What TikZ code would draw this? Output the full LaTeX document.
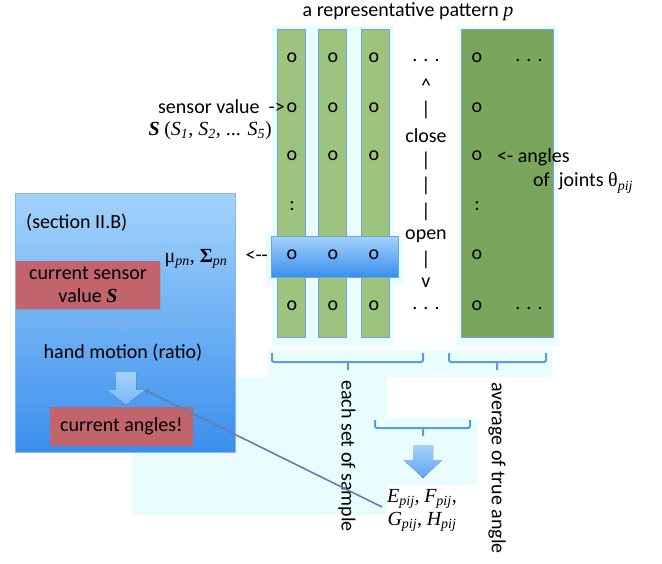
\documentclass[tikz,border=0pt]{standalone}
\usepackage{fontspec}
\setmainfont{Carlito}
\newfontfamily\tms{Liberation Serif}
\usepackage{tikz}
\usetikzlibrary{positioning,calc,arrows,shadows}

\definecolor{bgcyan}{HTML}{E9FDFE}
\definecolor{colgreen}{HTML}{9CC47E}
\definecolor{darkgreen}{HTML}{7AA55C}
\definecolor{colline}{HTML}{6FA6D9}
\definecolor{boxtop}{HTML}{A3D3FB}
\definecolor{boxbot}{HTML}{3A8EEE}
\definecolor{rosebox}{HTML}{C2646C}
\definecolor{bracecol}{HTML}{5B9BE2}
\definecolor{linkcol}{HTML}{5B83AE}

\newcommand{\isub}[2]{{\tms\itshape #1\textsubscript{#2}}}

\begin{document}
\begin{tikzpicture}[x=1pt,y=-1pt,>=to,
    every node/.style={font=\fontsize{20}{23}\selectfont, inner sep=1pt},
    column/.style={draw=colline, fill=colgreen, line width=0.7pt},
    mark o/.style={anchor=center},
    sidetext/.style={anchor=west},
    redbox/.style={fill=rosebox, draw=none, align=center, drop shadow={opacity=0.25, shadow xshift=1pt, shadow yshift=-1.5pt}},
    bracket/.style={draw=bracecol, line width=2pt, rounded corners=2pt},
    blockarrow/.style={top color=boxtop, bottom color=boxbot!80, draw=none}]

	\useasboundingbox (0,0) rectangle (662,563);

	% faint backgrounds of the text boxes
	\fill [bgcyan] (272,26) rectangle (394,346);
	\fill [bgcyan] (457,26) rectangle (558,346);
	\fill [bgcyan] (268,350) rectangle (552,377);
	\fill [bgcyan] (132,377) rectangle (387,515);
	\fill [bgcyan] (387,418) rectangle (477,485);
	\fill [bgcyan] (266,232) rectangle (403,285);

	\node (title) at (408,12) {a representative pattern \tms\itshape p};

	% sample columns
	\draw [column] (277,29) rectangle (305,337);
	\draw [column] (318,29) rectangle (346,337);
	\draw [column] (361,29) rectangle (389,337);
	\draw [column, fill=darkgreen] (461,29) rectangle (553,337);

	% selected row
	\shade [top color=boxtop, bottom color=boxbot, draw=colline, line width=0.7pt] (271,236) rectangle (398,277);

	\foreach \cx [count=\c] in {292,333,374,477} {
		\foreach \ry [count=\r] in {58,108,156,255,306} {
			\node [mark o] (o-\c-\r) at (\cx,\ry) {o};
		}
	}
	\node (colon-1) at (292,206) {:};
	\node (colon-4) at (477,206) {:};

	% close / open scale
	\node (dots-top) at (426,60) {. . .};
	\node (up) at (426,86) {\^{}};
	\node (bar1) at (426,110) {|};
	\node (close) at (426,136) {close};
	\node (bar2) at (426,161) {|};
	\node (bar3) at (426,186) {|};
	\node (bar4) at (426,212) {|};
	\node (open) at (426,236) {open};
	\node (bar5) at (426,260) {|};
	\node (down) at (426,283) {v};
	\node (dots-bot) at (426,308) {. . .};
	\node (avg-dots-top) at (529,60) {. . .};
	\node (avg-dots-bot) at (529,308) {. . .};

	% labels beside the columns
	\node [anchor=east] (sensor) at (286,107) {sensor value\ \ ->};
	\node [anchor=east] (svec) at (273,131) {{\tms\bfseries\itshape S} {\tms(\isub{S}{1}, \isub{S}{2}, ... \isub{S}{5})}};
	\node [sidetext] (angles) at (496,157) {<- angles};
	\node [sidetext] (joints) at (532,183) {of\ \ joints \isub{\textup{θ}}{pij}};
	\node [anchor=east] (fetch) at (269,256) {<-{}-};

	% left box
	\shade [top color=boxtop, bottom color=boxbot, draw=colline!80, line width=0.7pt] (15,193) rectangle (235,452);
	\node [anchor=west] (section) at (25,223) {(section II.B)};
	\node (musig) at (196,259) {{\tms μ\textsubscript{\itshape pn}, \textbf{Σ}\textsubscript{\itshape pn}}};
	\node [redbox, minimum width=144pt, minimum height=48pt, inner sep=0pt] (cursensor) at (88,285) {current sensor\\value {\tms\bfseries\itshape S}};
	\draw [draw=bracecol!80, line width=1.5pt, rounded corners=2pt] (68,315) -- (68,322) -- (183,322) -- (183,315) (125,322) -- (125,331);
	\node (handmotion) at (123,353) {hand motion (ratio)};
	\fill [blockarrow, top color=boxtop, bottom color=boxbot!40!boxtop] (116,372) -- (136,372) -- (136,390) -- (145,390) -- (126,405) -- (107,390) -- (116,390) -- cycle;
	\node [redbox, minimum width=143pt, minimum height=39pt, inner sep=0pt] (curangles) at (121.5,426) {current angles!};

	% brackets under the columns
	\draw [bracket] (272,353) -- (272,362) -- (423,362) -- (423,353) (348,362) -- (348,370);
	\draw [bracket] (449,353) -- (449,362) -- (546,362) -- (546,353) (497,362) -- (497,370);
	\node [rotate=-90] (eachset) at (347,456) {each set of sample};
	\node [rotate=-90] (average) at (497,468) {average of true angle};

	\draw [bracket] (375,420) -- (375,428) -- (470,428) -- (470,420) (423,428) -- (423,436);
	\fill [blockarrow] (413,445) -- (433,445) -- (433,460) -- (442,460) -- (423,478) -- (404,460) -- (413,460) -- cycle;

	\node [align=center] (params) at (422,510) {\isub{E}{pij}{\tms,} \isub{F}{pij}{\tms,}\\ \isub{G}{pij}{\tms,} \isub{H}{pij}};
	\coordinate (handarrow) at (145,390);
	\draw [linkcol, line width=1.6pt, ->] (params.west) ++(-4,-3) -- (handarrow);
\end{tikzpicture}
\end{document}
